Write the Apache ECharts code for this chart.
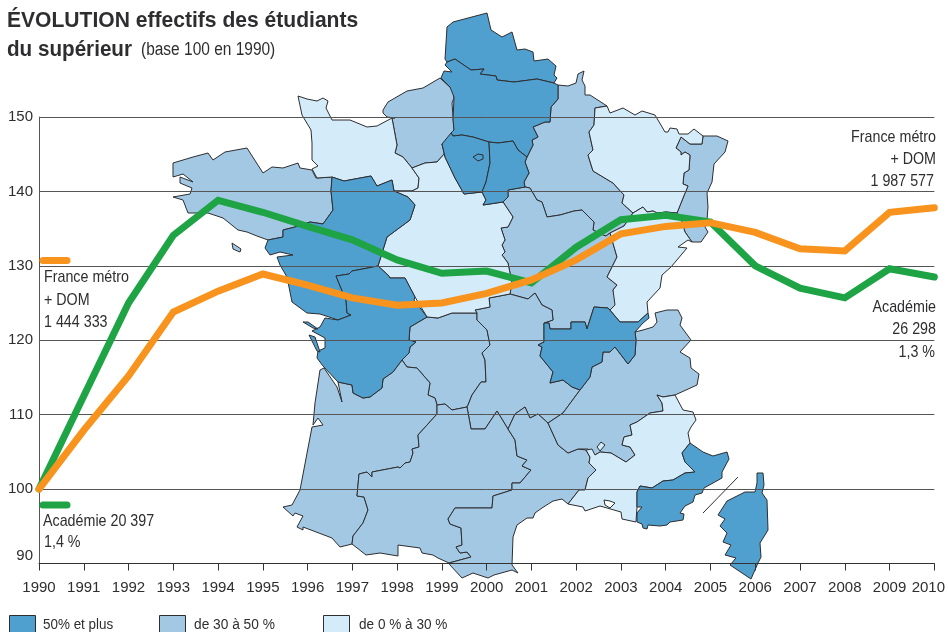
<!DOCTYPE html>
<html>
<head>
<meta charset="utf-8">
<style>
html,body{margin:0;padding:0;background:#fff;}
#chart{width:948px;height:632px;}
</style>
<script src="https://cdn.jsdelivr.net/npm/echarts@6/dist/echarts.min.js"></script>
</head>
<body>
<div id="chart"></div>
<script>
var years = ['1990','1991','1992','1993','1994','1995','1996','1997','1998','1999','2000','2001','2002','2003','2004','2005','2006','2007','2008','2009','2010'];
var academie = [100,112.5,125.0,134.1,138.8,137.2,135.3,133.5,130.8,129.0,129.3,127.7,132.5,136.2,136.8,135.9,130.0,127.0,125.7,129.6,128.5];
var franceMetro = [100,107.9,115.2,123.8,126.6,128.9,127.4,125.7,124.7,125.0,126.3,128.1,130.8,134.3,135.3,135.8,134.5,132.3,132.0,137.2,137.8];
var yTicks = [90,100,110,120,130,140,150];

// contours des regions (traces a la main sur le fond de carte)
var regionsDark = {
	nord: [[447,27],[453,22],[487,13],[491,30],[502,37],[512,32],[517,50],[525,49],[533,52],[534,61],[548,59],[556,66],[554,75],[557,78],[554,83],[537,79],[514,82],[497,80],[496,76],[480,74],[484,69],[471,70],[455,59],[447,62],[445,59]],
	picardie: [[447,62],[455,59],[471,70],[484,69],[480,74],[496,76],[497,80],[514,82],[537,79],[554,83],[558,85],[558,99],[551,107],[550,122],[545,122],[533,127],[538,137],[532,140],[533,145],[527,157],[518,150],[513,141],[498,143],[489,142],[473,137],[462,135],[453,136],[451,133],[454,130],[453,120],[454,97],[450,87],[441,78],[444,71],[452,72],[445,65]],
	idf: [[442,144],[451,133],[453,136],[462,135],[473,137],[489,142],[490,163],[486,182],[482,192],[464,194],[455,178],[445,157]],
	yonne: [[489,142],[498,143],[513,141],[518,150],[527,157],[525,162],[529,173],[524,182],[525,187],[508,190],[508,197],[503,202],[483,205],[486,200],[482,192],[486,182],[490,163]],
	loire: [[332,177],[344,181],[371,176],[377,186],[392,180],[394,191],[408,197],[415,205],[410,220],[387,237],[378,266],[352,271],[349,274],[336,276],[343,293],[346,300],[347,313],[351,315],[338,320],[320,314],[307,313],[292,302],[287,277],[280,265],[277,257],[293,255],[280,252],[270,255],[265,248],[268,240],[283,237],[283,230],[295,227],[310,222],[323,224],[333,210],[331,191]],
	poitou: [[336,276],[349,274],[352,271],[378,266],[388,275],[390,278],[405,278],[415,297],[414,300],[427,317],[410,327],[409,340],[416,342],[410,347],[409,353],[402,360],[393,372],[383,379],[382,388],[370,397],[363,398],[353,393],[352,385],[338,382],[323,366],[317,358],[318,351],[325,348],[325,338],[312,331],[320,327],[325,318],[338,320],[351,315],[347,313],[346,300],[343,293]],
	re: [[303,322],[308,322],[318,329],[313,328]],
	oleron: [[309,335],[315,337],[320,352],[317,351]],
	rhone: [[544,323],[549,323],[550,329],[571,329],[571,322],[585,322],[587,329],[594,307],[608,308],[620,322],[628,322],[638,322],[648,313],[649,318],[643,323],[635,332],[636,340],[635,355],[628,364],[615,347],[610,352],[603,352],[602,362],[592,367],[590,377],[580,390],[572,387],[563,380],[550,383],[553,372],[540,356],[542,347],[538,345],[544,342]],
	paca: [[690,443],[703,452],[713,456],[727,452],[729,459],[722,472],[722,478],[704,488],[702,493],[695,495],[693,502],[685,506],[680,513],[684,514],[683,520],[670,522],[667,525],[660,526],[648,525],[647,529],[643,528],[642,524],[637,522],[637,513],[642,507],[637,507],[637,492],[640,486],[652,488],[663,481],[673,480],[685,473],[695,472],[685,462],[682,453]],
	corse: [[757,473],[763,473],[764,485],[762,493],[767,500],[768,530],[760,543],[761,557],[758,563],[751,579],[730,565],[736,558],[725,555],[731,545],[723,542],[727,533],[720,526],[725,519],[718,515],[727,501],[745,492],[755,492],[757,483]],
	paris: [[473,157],[478,154],[483,155],[483,159],[478,161]]
};
var regionsMid = {
	hauteNormandie: [[383,110],[388,102],[407,91],[423,88],[440,78],[453,90],[454,98],[452,103],[454,130],[452,134],[442,144],[445,153],[437,162],[425,163],[412,168],[403,157],[395,153],[397,145],[392,118],[395,118],[387,117],[383,113]],
	bretagne: [[173,163],[193,157],[208,153],[213,160],[225,152],[247,148],[263,173],[272,167],[283,168],[298,163],[300,168],[312,170],[316,178],[332,177],[331,191],[333,210],[323,224],[310,222],[295,227],[283,230],[283,237],[268,240],[257,236],[247,232],[238,230],[223,218],[208,213],[188,213],[183,200],[173,197],[190,194],[192,188],[180,183],[180,177],[193,182],[183,174],[173,177]],
	belleIle: [[232,243],[241,249],[240,252],[233,249]],
	champagne: [[558,85],[568,86],[576,83],[578,74],[584,71],[582,80],[585,86],[585,95],[590,95],[607,106],[595,108],[594,125],[589,132],[593,150],[588,155],[593,171],[613,183],[624,195],[622,203],[633,213],[624,226],[610,233],[606,236],[603,235],[593,230],[594,222],[582,210],[574,211],[560,215],[547,217],[542,202],[537,200],[530,188],[525,187],[524,182],[529,173],[525,162],[527,157],[533,145],[532,140],[538,137],[533,127],[545,122],[550,122],[551,107],[558,99]],
	alsace: [[681,137],[690,144],[702,144],[703,136],[717,136],[728,141],[725,152],[714,164],[712,182],[707,193],[708,207],[707,220],[705,227],[708,232],[701,242],[692,242],[685,232],[682,222],[677,213],[683,198],[688,186],[683,184],[684,173],[689,170],[690,155],[685,152],[681,155],[681,152],[676,148]],
	bourgogne: [[508,197],[508,190],[525,187],[530,188],[537,200],[542,202],[547,217],[560,215],[574,211],[582,210],[594,222],[593,230],[603,235],[606,236],[610,233],[617,257],[607,277],[617,285],[613,290],[617,305],[610,310],[608,308],[594,307],[587,329],[585,322],[571,322],[571,329],[550,329],[549,323],[544,323],[553,320],[552,310],[542,305],[535,293],[528,299],[510,294],[512,283],[508,263],[502,255],[505,252],[502,245],[505,240],[501,228],[508,227],[513,217],[503,202]],
	limousin: [[427,317],[438,318],[452,313],[477,313],[477,320],[487,330],[490,345],[482,353],[485,360],[486,382],[481,382],[472,395],[468,405],[467,407],[452,410],[445,404],[437,405],[435,398],[428,395],[430,383],[417,368],[407,367],[402,360],[409,353],[410,347],[416,342],[409,340],[410,327]],
	auvergne: [[477,313],[475,310],[490,307],[489,298],[510,294],[528,299],[535,293],[542,305],[552,310],[553,320],[544,323],[544,342],[538,345],[542,347],[540,356],[553,372],[550,383],[563,380],[572,387],[580,390],[563,413],[548,423],[538,414],[530,418],[525,407],[515,414],[508,429],[497,411],[485,429],[471,429],[467,407],[468,405],[472,395],[481,382],[486,382],[485,360],[482,353],[490,345],[487,330],[477,320]],
	aquitaine: [[338,382],[352,385],[353,393],[363,398],[370,397],[382,388],[383,379],[393,372],[402,360],[407,367],[417,368],[430,383],[428,395],[435,398],[437,405],[437,414],[418,435],[419,447],[412,449],[413,453],[410,462],[405,463],[400,468],[398,467],[372,472],[372,477],[367,472],[359,474],[357,496],[364,497],[368,510],[363,523],[353,536],[352,544],[340,547],[332,538],[303,527],[303,530],[297,527],[303,516],[295,513],[293,516],[283,507],[292,505],[300,490],[312,427],[323,425],[318,418],[313,425],[315,403],[320,370],[324,368],[337,387],[342,402]],
	midi: [[437,414],[437,405],[445,404],[452,410],[467,407],[471,429],[485,429],[497,411],[508,429],[515,440],[517,456],[527,460],[522,466],[531,470],[520,483],[512,483],[512,490],[493,496],[492,508],[473,508],[455,508],[448,519],[450,524],[461,528],[462,545],[456,547],[460,553],[467,552],[471,557],[449,563],[438,558],[433,555],[422,553],[420,548],[398,545],[398,556],[380,553],[366,555],[352,544],[353,536],[363,523],[368,510],[364,497],[357,496],[359,474],[367,472],[372,477],[372,472],[398,467],[400,468],[405,463],[410,462],[413,453],[412,449],[419,447],[418,435]],
	languedoc: [[508,429],[515,414],[525,407],[530,418],[538,414],[548,423],[558,445],[568,453],[578,449],[586,450],[590,457],[589,463],[596,470],[588,478],[585,490],[579,490],[568,504],[562,499],[553,501],[542,508],[535,513],[533,518],[527,518],[517,525],[513,537],[512,565],[518,573],[512,570],[494,575],[488,578],[473,573],[462,578],[450,565],[449,563],[471,557],[467,552],[460,553],[456,547],[462,545],[461,528],[450,524],[448,519],[455,508],[473,508],[492,508],[493,496],[512,490],[512,483],[520,483],[531,470],[522,466],[527,460],[517,456],[515,440]],
	rhoneAlpes: [[635,332],[643,330],[653,327],[657,322],[655,313],[667,310],[678,310],[682,318],[680,325],[691,340],[680,352],[690,358],[691,368],[699,374],[697,385],[675,395],[663,397],[657,395],[662,403],[663,411],[650,413],[637,422],[630,425],[632,435],[624,437],[622,445],[630,447],[635,455],[626,462],[611,453],[600,452],[595,455],[588,449],[578,449],[568,453],[558,445],[548,423],[563,413],[580,390],[590,377],[592,367],[602,362],[603,352],[610,352],[615,347],[628,364],[635,355],[636,340]]
};
var regionsLight = {
	basseNormandie: [[298,96],[307,99],[317,101],[323,98],[328,101],[326,108],[332,120],[350,120],[367,127],[377,126],[392,118],[397,145],[395,153],[403,157],[412,168],[419,178],[418,188],[412,191],[394,191],[392,180],[377,186],[371,176],[344,181],[332,177],[317,178],[312,169],[318,166],[312,160],[312,143],[311,130],[302,115]],
	centre: [[412,168],[425,163],[437,162],[445,153],[442,144],[445,157],[455,178],[464,194],[482,192],[486,200],[483,205],[503,202],[513,217],[508,227],[501,228],[505,240],[502,245],[505,252],[502,255],[508,263],[512,283],[510,294],[489,298],[490,307],[475,310],[477,313],[452,313],[438,318],[427,317],[415,297],[405,278],[390,278],[388,275],[378,266],[387,237],[410,220],[415,205],[408,197],[394,191],[412,191],[418,188],[419,178]],
	lorraine: [[607,106],[610,113],[623,108],[635,115],[642,111],[655,115],[665,132],[668,132],[670,128],[677,129],[679,134],[688,134],[694,129],[703,136],[702,144],[690,144],[681,137],[676,148],[681,152],[681,155],[685,152],[690,155],[689,170],[684,173],[683,184],[688,186],[683,198],[677,213],[666,212],[657,213],[653,211],[647,212],[643,207],[633,213],[622,203],[624,195],[613,183],[593,171],[588,155],[593,150],[589,132],[594,125],[595,108]],
	franche: [[633,213],[643,207],[647,212],[653,211],[657,213],[666,212],[677,213],[682,222],[685,232],[692,242],[688,240],[678,247],[687,248],[671,267],[662,275],[660,288],[647,302],[648,313],[638,322],[628,322],[620,322],[610,310],[615,305],[613,290],[617,285],[607,277],[617,257],[610,233],[624,226]],
	provence: [[586,450],[592,449],[595,455],[600,452],[611,453],[626,462],[635,455],[630,447],[622,445],[624,437],[632,435],[630,425],[637,422],[650,413],[663,411],[662,403],[657,395],[663,397],[675,395],[683,410],[693,412],[696,420],[691,427],[688,433],[690,443],[682,453],[685,462],[695,472],[685,473],[673,480],[663,481],[652,488],[640,486],[637,492],[637,507],[636,522],[622,519],[621,512],[600,506],[585,511],[583,507],[568,504],[579,490],[585,490],[588,478],[596,470],[589,463],[590,457]],
	valreas: [[597,447],[601,442],[605,445],[600,451]]
};
var regionsWhite = {
	berre: [[604,500],[610,501],[615,503],[610,508],[605,505]]
};
var legendLabels = ['50% et plus','de 30 à 50 %','de 0 % à 30 %'];

var FONT = '"Liberation Sans",sans-serif';
var DARK = '#4f9fcf', MID = '#a3c8e4', LIGHT = '#d4ebfa';
var INK = '#2e2e30';

function addFeatures(features, group) {
	for(var name in group) {
		// y inverse : la carte est tracee en lat = -y
		var ring = group[name].map(function(p) { return [p[0], -p[1]]; });
		ring.push(ring[0]);
		features.push({
			type: 'Feature',
			properties: { name: name },
			geometry: { type: 'Polygon', coordinates: [ring] }
		});
	}
}
var features = [];
addFeatures(features, regionsMid);
addFeatures(features, regionsLight);
addFeatures(features, regionsDark);
addFeatures(features, regionsWhite);
echarts.registerMap('france', { type: 'FeatureCollection', features: features });

function regionStyles(group, color) {
	return Object.keys(group).map(function(name) {
		return { name: name, itemStyle: { areaColor: color } };
	});
}
var geoRegions = [].concat(
	regionStyles(regionsDark, DARK),
	regionStyles(regionsMid, MID),
	regionStyles(regionsLight, LIGHT),
	regionStyles(regionsWhite, '#fff')
);

// pas de police etroite installee : on resserre le texte avec scaleX
function label(x, y, text, align, font, scaleX) {
	return {
		type: 'text', x: x, y: y, z: 20, silent: true,
		scaleX: scaleX || 0.84,
		style: {
			text: text, fill: INK, font: font || '17px ' + FONT,
			align: align || 'left', verticalAlign: 'middle'
		}
	};
}
function swatch(x, color) {
	return {
		type: 'rect', z: 20, silent: true,
		shape: { x: x, y: 615.5, width: 26, height: 18 },
		style: { fill: color, stroke: INK, lineWidth: 1 }
	};
}
function keyLine(y, color) {
	return {
		type: 'line', z: 20, silent: true,
		shape: { x1: 43, y1: y, x2: 67, y2: y },
		style: { stroke: color, lineWidth: 7, lineCap: 'round' }
	};
}

var chart = echarts.init(document.getElementById('chart'), null, { renderer: 'canvas' });
chart.setOption({
	animation: false,
	backgroundColor: '#fff',
	grid: { left: 39, top: 117, width: 900, height: 446.5, containLabel: false },
	geo: {
		map: 'france',
		z: -1,
		left: 173, top: 13, width: 595, height: 566,
		aspectScale: 1,
		roam: false,
		silent: true,
		label: { show: false },
		itemStyle: { borderColor: INK, borderWidth: 1, areaColor: MID },
		emphasis: { disabled: true },
		regions: geoRegions
	},
	xAxis: {
		type: 'category',
		data: years,
		boundaryGap: false,
		axisLine: { lineStyle: { color: '#333', width: 1 } },
		axisTick: { show: true, length: 7, lineStyle: { color: '#333' }, alignWithLabel: true },
		axisLabel: {
			interval: 0, margin: 17, color: INK, fontFamily: FONT, fontSize: 15,
			formatter: function(v) { return v === '2010' ? '{last|2010}' : v; },
			rich: { last: { padding: [0, 12, 0, 0], color: INK, fontFamily: FONT, fontSize: 15 } }
		},
		splitLine: { show: false }
	},
	yAxis: {
		type: 'value',
		min: 90, max: 150, interval: 10,
		axisLine: { show: true, lineStyle: { color: '#555', width: 1 } },
		axisTick: { show: false },
		axisLabel: {
			margin: 6, color: INK, fontFamily: FONT, fontSize: 15,
			verticalAlignMinLabel: 'bottom',
			formatter: function(v) { return yTicks.indexOf(v) >= 0 ? String(v) : ''; }
		},
		splitLine: { show: true, lineStyle: { color: '#555', width: 1 } }
	},
	series: [
		{
			name: 'Académie', type: 'line', data: academie, z: 5,
			symbol: 'none', smooth: false,
			lineStyle: { color: '#1ea445', width: 7, cap: 'round', join: 'miter' }
		},
		{
			name: 'France métro + DOM', type: 'line', data: franceMetro, z: 6,
			symbol: 'none', smooth: false,
			lineStyle: { color: '#f8941d', width: 7, cap: 'round', join: 'miter' }
		}
	],
	graphic: [
		label(7, 21, 'ÉVOLUTION effectifs des étudiants', 'left', 'bold 21.5px ' + FONT, 0.98),
		label(7, 50, 'du supérieur', 'left', 'bold 21.5px ' + FONT, 0.96),
		label(141, 50, '(base 100 en 1990)', 'left', '18px ' + FONT, 0.86),
		keyLine(260.5, '#f8941d'),
		keyLine(505, '#1ea445'),
		label(44, 277, 'France métro'),
		label(44, 300, '+ DOM'),
		label(44, 322, '1 444 333'),
		label(43, 521, 'Académie 20 397'),
		label(44, 542, '1,4 %'),
		label(936, 137, 'France métro', 'right'),
		label(936, 159, '+ DOM', 'right'),
		label(934, 181, '1 987 577', 'right'),
		label(936, 307, 'Académie', 'right'),
		label(936, 329, '26 298', 'right'),
		label(935, 352, '1,3 %', 'right'),
		{
			type: 'line', z: 20, silent: true,
			shape: { x1: 703, y1: 513, x2: 738, y2: 477 },
			style: { stroke: INK, lineWidth: 1 }
		},
		swatch(9.5, DARK), swatch(159.5, MID), swatch(323.5, LIGHT),
		label(43, 625, legendLabels[0], 'left', '14px ' + FONT, 0.96),
		label(194, 625, legendLabels[1], 'left', '14px ' + FONT, 0.98),
		label(359, 625, legendLabels[2], 'left', '14px ' + FONT, 0.97)
	]
});
</script>
</body>
</html>
